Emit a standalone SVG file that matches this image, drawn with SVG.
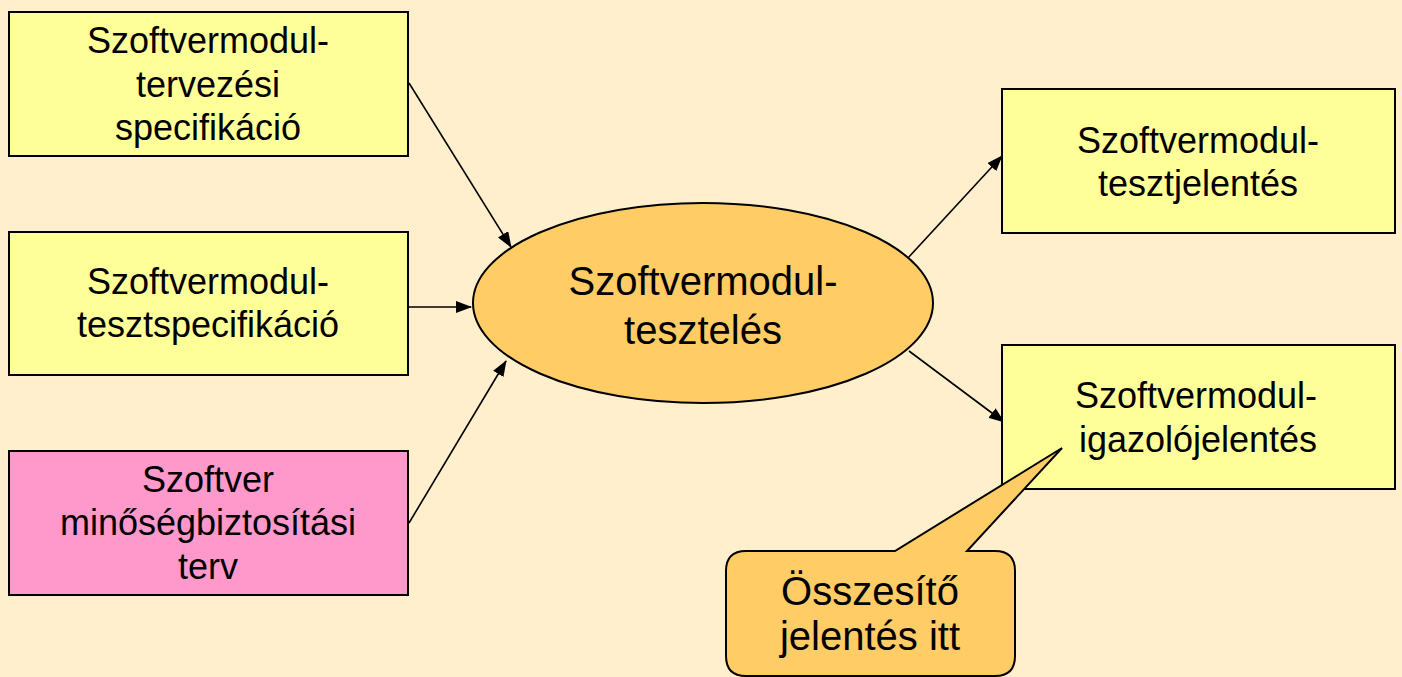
<svg xmlns="http://www.w3.org/2000/svg" width="1402" height="677" viewBox="0 0 1402 677">
<defs>
<style>
.box{stroke:#000;stroke-width:2}
.y{fill:#FFFF99}
.p{fill:#FF99CC}
.o{fill:#FFCC66;stroke:#000;stroke-width:2}
text{font-family:"Liberation Sans",Arial,sans-serif;fill:#000;text-anchor:middle}
.t36{font-size:36px}
.t40{font-size:40px}
.c{stroke:#000;stroke-width:1.6;fill:none;marker-end:url(#ah)}
</style>
<marker id="ah" markerUnits="userSpaceOnUse" markerWidth="16" markerHeight="12" refX="15" refY="6" orient="auto" viewBox="0 0 16 12">
<path d="M0,0 L16,6 L0,12 z" fill="#000"/>
</marker>
</defs>
<rect width="1402" height="677" fill="#FFEFCC"/>
<g id="connectors">
<line class="c" x1="409" y1="83" x2="511" y2="247"/>
<line class="c" x1="409" y1="307" x2="471" y2="307"/>
<line class="c" x1="409" y1="523" x2="506" y2="361"/>
<line class="c" x1="907" y1="259" x2="1002" y2="156"/>
<line class="c" x1="909" y1="351" x2="1004" y2="422"/>
</g>
<g id="n1">
<rect class="box y" x="9" y="12" width="399" height="144"/>
<text class="t36" x="208" y="53">Szoftvermodul-</text>
<text class="t36" x="208" y="97">tervezési</text>
<text class="t36" x="208" y="140">specifikáció</text>
</g>
<g id="n2">
<rect class="box y" x="9" y="232" width="399" height="143"/>
<text class="t36" x="208" y="294">Szoftvermodul-</text>
<text class="t36" x="208" y="337">tesztspecifikáció</text>
</g>
<g id="n3">
<rect class="box p" x="9" y="451" width="399" height="144"/>
<text class="t36" x="208" y="492">Szoftver</text>
<text class="t36" x="208" y="535">minőségbiztosítási</text>
<text class="t36" x="208" y="579">terv</text>
</g>
<g id="n4">
<ellipse class="o" cx="703" cy="303" rx="230" ry="100"/>
<text class="t40" x="703" y="295">Szoftvermodul-</text>
<text class="t40" x="703" y="344">tesztelés</text>
</g>
<g id="n5">
<rect class="box y" x="1002" y="89" width="393" height="144"/>
<text class="t36" x="1198" y="153">Szoftvermodul-</text>
<text class="t36" x="1198" y="196">tesztjelentés</text>
</g>
<g id="n6">
<rect class="box y" x="1002" y="345" width="393" height="144"/>
<text class="t36" x="1196" y="408">Szoftvermodul-</text>
<text class="t36" x="1198" y="452">igazolójelentés</text>
</g>
<g id="n7">
<path class="o" d="M746,551 L895,551 L1062,448 L967,551 L995,551 Q1015,551 1015,571 L1015,656 Q1015,676 995,676 L746,676 Q726,676 726,656 L726,571 Q726,551 746,551 Z"/>
<text class="t40" x="870" y="605">Összesítő</text>
<text class="t40" x="870" y="650">jelentés itt</text>
</g>
</svg>
